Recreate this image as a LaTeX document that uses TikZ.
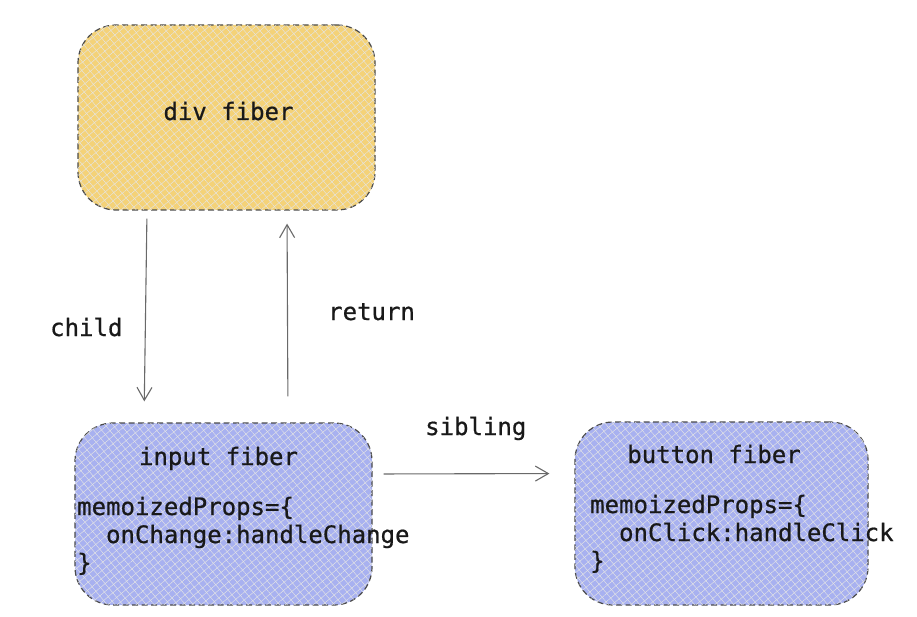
\documentclass[tikz,border=0pt]{standalone}
\usepackage{fontspec}
\setmonofont{DejaVu Sans Mono}[BoldFont={DejaVu Sans Mono}, BoldFeatures={FakeBold=0.7}]
\usepackage{tikz}
\usetikzlibrary{arrows.meta}
\usetikzlibrary{positioning}
\usetikzlibrary{patterns.meta}
\definecolor{divyellow}{RGB}{244,210,120}
\definecolor{fiberblue}{RGB}{168,177,240}
\definecolor{edgegray}{RGB}{75,75,75}
\definecolor{arrowgray}{RGB}{105,105,105}
\tikzset{>={Straight Barb[length=13pt,width=15pt]}}
\tikzset{
  fiberbox/.style={draw=edgegray, line width=1.2pt, dash pattern=on 6pt off 3.5pt,
    rounded corners=38pt, inner sep=0pt,
    postaction={pattern={Lines[angle=40,distance=6pt,line width=0.45pt]}, pattern color=white!90!black},
    postaction={pattern={Lines[angle=-50,distance=6pt,line width=0.45pt]}, pattern color=white!90!black}},
  codetext/.style={font=\ttfamily\bfseries\fontsize{24}{28}\selectfont, inner sep=0pt, text=black!90},
  link/.style={->, draw=arrowgray, line width=1.1pt}
}

\begin{document}
\begin{tikzpicture}[x=1pt, y=-1pt]
    \useasboundingbox (0,0) rectangle (917,617);
    \node [fiberbox, fill=divyellow, minimum width=297pt, minimum height=185pt] (divfiber) at (226.5,117.5) {};
    \node [fiberbox, fill=fiberblue, minimum width=297pt, minimum height=182pt] (inputfiber) at (223.5,514) {};
    \node [fiberbox, fill=fiberblue, minimum width=293pt, minimum height=183pt] (buttonfiber) at (721.5,513.5) {};

    \node [codetext, anchor=base] (divname) at (228.5,120) {div fiber};
    \node [codetext, anchor=base] (inputname) at (218.5,465) {input fiber};
    \node [codetext, anchor=base] (buttonname) at (714,463) {button fiber};
    % base of a multi-line node is its last line
    \node [codetext, anchor=base west, align=left] (inputprops) at (77,571)
        {memoizedProps=\{\\\phantom{xx}onChange:handleChange\\\}};
    \node [codetext, anchor=base west, align=left] (buttonprops) at (590,569)
        {memoizedProps=\{\\\phantom{xx}onClick:handleClick\\\}};

    \draw [link, shorten <=8pt, shorten >=21pt] ([xshift=-79.5pt]divfiber.south) -- ([xshift=-79.5pt]inputfiber.north);
    \draw [link, shorten <=26pt, shorten >=13pt] ([xshift=64.5pt]inputfiber.north) -- ([xshift=60.5pt]divfiber.south);
    \draw [link, shorten <=11pt, shorten >=25pt] ([yshift=40pt]inputfiber.east) -- ([yshift=40pt]buttonfiber.west);

    \node [codetext, anchor=base west] (childlabel) at (50,336) {child};
    \node [codetext, anchor=base west] (returnlabel) at (328,320) {return};
    \node [codetext, anchor=base west] (siblinglabel) at (425,435) {sibling};
\end{tikzpicture}
\end{document}
